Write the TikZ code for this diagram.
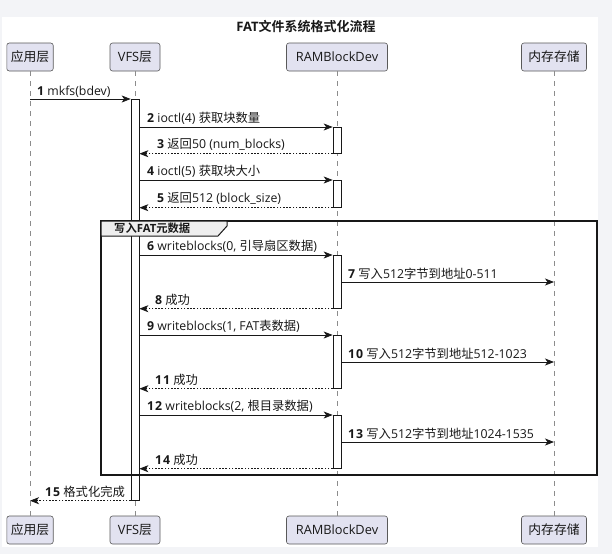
\documentclass[tikz,border=0pt]{standalone}
\usepackage{fontspec}
\setmainfont{Open Sans}
\newfontfamily\cjk{Noto Sans CJK SC}[BoldFont={Noto Sans CJK SC Bold}]
\usetikzlibrary{arrows.meta}
\definecolor{pbox}{HTML}{E2E2F0}
\definecolor{ln}{HTML}{181818}
\definecolor{outerbg}{HTML}{F3F4F7}
\definecolor{tabfill}{HTML}{EEEEEE}
\tikzset{
  part/.style={draw=black!65, line width=0.6pt, fill=pbox, rounded corners=2.5pt,
    minimum height=28pt, inner xsep=4pt, font=\fontsize{12.8}{15}\selectfont, text=ln},
  life/.style={draw=black!45, line width=0.6pt, dash pattern=on 5pt off 5pt},
  act/.style={draw=ln, fill=white, line width=0.7pt, minimum width=8pt, inner sep=0pt},
  msg/.style={draw=ln, line width=0.8pt, -{Stealth[length=9pt,width=7pt,inset=2.5pt]}},
  ret/.style={msg, dash pattern=on 1.6pt off 1.6pt},
  lbl/.style={anchor=south west, inner sep=0pt, font=\fontsize{12.3}{14}\selectfont, text=ln},
  frame/.style={draw=ln, line width=1.3pt},
  tab/.style={draw=ln, line width=1pt, fill=tabfill}
}
\newcommand{\num}[1]{\textbf{#1}\ }
\begin{document}
\begin{tikzpicture}[x=1pt,y=-1pt]
\fill[outerbg] (0,0) rectangle (612,554);
\fill[white] (2,17) rectangle (598,547);
\useasboundingbox (0,0) rectangle (612,554);

\node[font=\bfseries\fontsize{13}{15}\selectfont, text=ln] (title) at (306,27) {FAT{\cjk 文件系统格式化流程}};

% participants
\node[part, minimum width=46pt] (a1) at (30,57) {\cjk 应用层};
\node[part, minimum width=50pt] (b1) at (135,57) {VFS{\cjk 层}};
\node[part, minimum width=101pt] (c1) at (337,57) {RAMBlockDev};
\node[part, minimum width=65pt] (d1) at (554,57) {\cjk 内存存储};
\node[part, minimum width=46pt] (a2) at (30,530) {\cjk 应用层};
\node[part, minimum width=50pt] (b2) at (135,530) {VFS{\cjk 层}};
\node[part, minimum width=101pt] (c2) at (337,530) {RAMBlockDev};
\node[part, minimum width=65pt] (d2) at (554,530) {\cjk 内存存储};

\draw[life] (a1) -- (a2);
\draw[life] (b1) -- (b2);
\draw[life] (c1) -- (c2);
\draw[life] (d1) -- (d2);

% activations
\node[act, minimum height=401pt, anchor=north] (vb) at (135,99) {};
\node[act, minimum height=26pt, anchor=north] (r1) at (337,127) {};
\node[act, minimum height=27pt, anchor=north] (r2) at (337,180) {};
\node[act, minimum height=53pt, anchor=north] (r3) at (337,255) {};
\node[act, minimum height=53pt, anchor=north] (r4) at (337,335) {};
\node[act, minimum height=53pt, anchor=north] (r5) at (337,415) {};

% messages
\draw[msg] (a1 |- vb.north) -- (vb.north west);
\node[lbl] (l1) at (37,98) {\num{1}mkfs(bdev)};

\draw[msg] (vb.east |- r1.north) -- (r1.north west);
\node[lbl] (l2) at (147,125) {\num{2}ioctl(4) {\cjk 获取块数量}};
\draw[ret] (r1.south west) -- (vb.east |- r1.south);
\node[lbl] (l3) at (157,151) {\num{3}{\cjk 返回}50 (num\_blocks)};

\draw[msg] (vb.east |- r2.north) -- (r2.north west);
\node[lbl] (l4) at (147,178) {\num{4}ioctl(5) {\cjk 获取块大小}};
\draw[ret] (r2.south west) -- (vb.east |- r2.south);
\node[lbl] (l5) at (157,205) {\num{5}{\cjk 返回}512 (block\_size)};

% group frame
\draw[frame] (101,221) rectangle (597,475);
\draw[tab] (101,221) -- (227,221) -- (227,226) -- (218,236) -- (101,236) -- cycle;
\node[anchor=west, inner sep=0pt, font=\bfseries\fontsize{11.3}{13}\selectfont, text=ln] (gt) at (114,228.5) {{\cjk 写入}FAT{\cjk 元数据}};

\draw[msg] (vb.east |- r3.north) -- (r3.north west);
\node[lbl] (l6) at (147,253) {\num{6}writeblocks(0, {\cjk 引导扇区数据})};
\draw[msg] (r3.east |- 0,282) -- (d1 |- 0,282);
\node[lbl] (l7) at (348,280) {\num{7}{\cjk 写入}512{\cjk 字节到地址}0-511};
\draw[ret] (r3.south west) -- (vb.east |- r3.south);
\node[lbl] (l8) at (155,306) {\num{8}{\cjk 成功}};

\draw[msg] (vb.east |- r4.north) -- (r4.north west);
\node[lbl] (l9) at (147,333) {\num{9}writeblocks(1, FAT{\cjk 表数据})};
\draw[msg] (r4.east |- 0,362) -- (d1 |- 0,362);
\node[lbl] (l10) at (348,360) {\num{1\kern1pt0}{\cjk 写入}512{\cjk 字节到地址}512-1023};
\draw[ret] (r4.south west) -- (vb.east |- r4.south);
\node[lbl] (l11) at (155,386) {\num{1\kern1pt1}{\cjk 成功}};

\draw[msg] (vb.east |- r5.north) -- (r5.north west);
\node[lbl] (l12) at (147,413) {\num{1\kern1pt2}writeblocks(2, {\cjk 根目录数据})};
\draw[msg] (r5.east |- 0,442) -- (d1 |- 0,442);
\node[lbl] (l13) at (348,440) {\num{1\kern1pt3}{\cjk 写入}512{\cjk 字节到地址}1024-1535};
\draw[ret] (r5.south west) -- (vb.east |- r5.south);
\node[lbl] (l14) at (155,466) {\num{1\kern1pt4}{\cjk 成功}};

\draw[ret] (vb.south west) -- (a1 |- vb.south);
\node[lbl] (l15) at (45,498) {\num{1\kern1pt5}{\cjk 格式化完成}};
\end{tikzpicture}
\end{document}
